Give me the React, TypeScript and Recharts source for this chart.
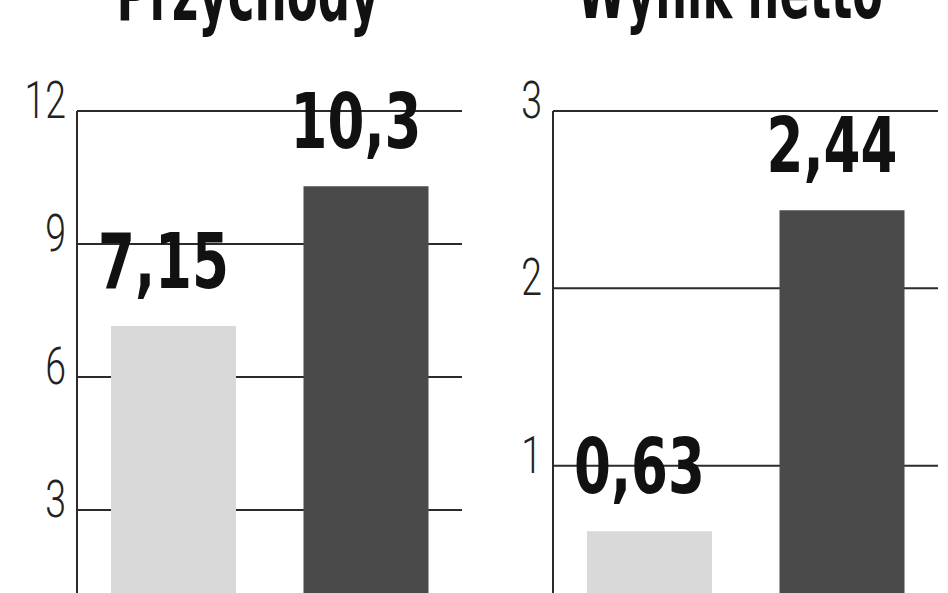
import { BarChart, Bar, XAxis, YAxis, CartesianGrid, Cell, LabelList } from "recharts";

const categories = ["rok poprzedni", "rok bieżący"];
const revenue = [7.15, 10.3];
const netResult = [0.63, 2.44];
const revenueTicks = [0, 3, 6, 9, 12];
const netTicks = [0, 1, 2, 3];
const barColors = ["#d9d9d9", "#4a4a4a"];
const titles = ["Przychody", "Wynik netto"];

// polish decimal comma
const toPl = (v: number) => String(v).replace(".", ",");

const ValueLabel = (props: any) => {
  const { x, y, width, value } = props;
  return (
    <text
      x={x + width / 2 - 10}
      y={y - 38}
      textAnchor="middle"
      fontFamily="'DejaVu Sans', sans-serif"
      fontWeight="bold"
      fontSize={76}
      fill="#111"
      textLength={131}
      lengthAdjust="spacingAndGlyphs"
    >
      {toPl(value)}
    </text>
  );
};

const AxisTick = (props: any) => {
  const { x, y, payload } = props;
  return (
    <g transform={`translate(${x},${y + 7}) scale(0.72,1)`}>
      <text x={0} y={0} textAnchor="end" fontFamily="Roboto, sans-serif" fontWeight={300} fontSize={52} fill="#222">
        {payload.value}
      </text>
    </g>
  );
};

const Panel = ({ values, ticks, left, axisWidth, right }: any) => {
  const data = categories.map((name, i) => ({ name, value: values[i] }));
  return (
    <div style={{ position: "absolute", left, top: 0 }}>
      <BarChart
        width={474}
        height={660}
        data={data}
        margin={{ top: 111, right, bottom: 17, left: 0 }}
        barSize={125}
      >
        <CartesianGrid vertical={false} stroke="#2b2b2b" strokeWidth={2} />
        <XAxis dataKey="name" hide />
        <YAxis
          type="number"
          domain={[0, ticks[ticks.length - 1]]}
          ticks={ticks}
          interval={0}
          width={axisWidth}
          axisLine={{ stroke: "#2b2b2b", strokeWidth: 2 }}
          tickLine={false}
          tickSize={0}
          tickMargin={11}
          tick={<AxisTick />}
        />
        <Bar dataKey="value" isAnimationActive={false}>
          {data.map((d, i) => (
            <Cell key={d.name} fill={barColors[i]} />
          ))}
          <LabelList dataKey="value" content={<ValueLabel />} />
        </Bar>
      </BarChart>
    </div>
  );
};

export default function App() {
  return (
    <div style={{ position: "absolute", left: 0, top: 0, width: 948, height: 593, overflow: "hidden", background: "#fff" }}>
      <Panel values={revenue} ticks={revenueTicks} left={0} axisWidth={77} right={12} />
      <Panel values={netResult} ticks={netTicks} left={474} axisWidth={79} right={10} />
      <svg width={948} height={593} style={{ position: "absolute", left: 0, top: 0, pointerEvents: "none" }}>
        <text x={248} y={20} textAnchor="middle" fontFamily="'DejaVu Sans', sans-serif" fontWeight="bold" fontSize={76} fill="#111" textLength={263} lengthAdjust="spacingAndGlyphs">
          {titles[0]}
        </text>
        <text x={730} y={18} textAnchor="middle" fontFamily="'DejaVu Sans', sans-serif" fontWeight="bold" fontSize={76} fill="#111" textLength={306} lengthAdjust="spacingAndGlyphs">
          {titles[1]}
        </text>
      </svg>
    </div>
  );
}
